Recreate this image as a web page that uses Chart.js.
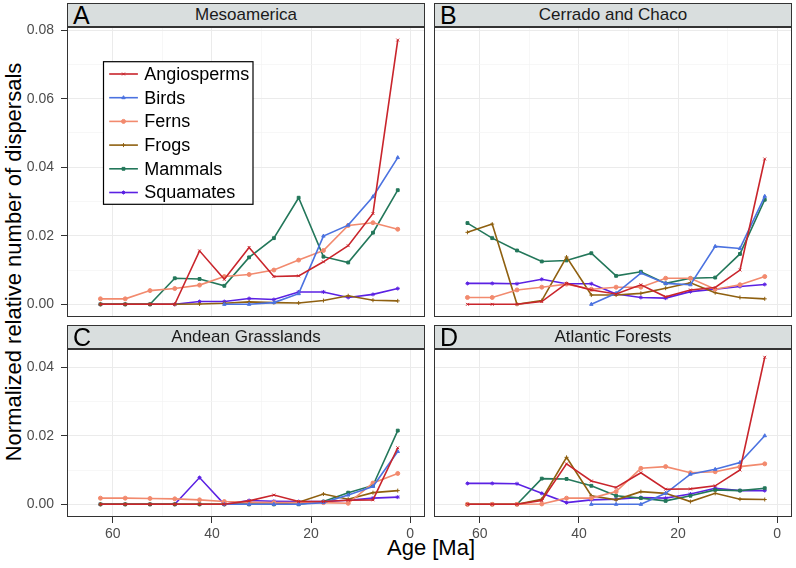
<!DOCTYPE html>
<html>
<head>
<meta charset="utf-8">
<script src="https://cdn.jsdelivr.net/npm/chart.js@4.4.1/dist/chart.umd.min.js"></script>
<style>
  body { margin: 0; background: #fff; font-family: "Liberation Sans", Arial, sans-serif; }
  #wrap { position: relative; width: 796px; height: 568px; overflow: hidden; }
  canvas.panel { position: absolute; }
  .strip { position: absolute; box-sizing: border-box; height: 24px; border: 1px solid #333; background: #D9DEDE; }
  .strip .tag { position: absolute; left: 5px; top: 0; line-height: 22px; font-size: 25px; color: #000; }
  .strip .ttl { position: absolute; left: 0; right: 0; top: 0; line-height: 22px; font-size: 17px; text-align: center; color: #1a1a1a; }
  .xtitle { position: absolute; left: 431px; top: 548px; font-size: 22px; line-height: 24px; white-space: nowrap; transform: translate(-50%, -50%); }
  .ytitle { position: absolute; left: 14px; top: 262px; font-size: 22px; line-height: 24px; white-space: nowrap; transform: translate(-50%, -50%) rotate(-90deg); }
</style>
</head>
<body>
<div id="wrap">
  <div class="xtitle">Age [Ma]</div>
  <div class="ytitle">Normalized relative number of dispersals</div>
</div>
<script>
const AGES   = [62.5, 57.5, 52.5, 47.5, 42.5, 37.5, 32.5, 27.5, 22.5, 17.5, 12.5, 7.5, 2.5];
const GROUPS = ['Angiosperms', 'Birds', 'Ferns', 'Frogs', 'Mammals', 'Squamates'];
const COLORS = ['#C9252C', '#4B72E0', '#F28A6E', '#8F6010', '#23775A', '#5B21E3'];
const SHAPES = ['crossRot', 'triangle', 'circle', 'cross', 'rect', 'star'];

// A - Mesoamerica
const mesoAngiosperms = [0, 0, 0, 0, 0.0156, 0.0073, 0.0166, 0.0081, 0.0083, 0.0124, 0.0171, 0.0265, 0.0771];
const mesoBirds       = [null, null, null, null, null, 0, 0, 0.0005, 0.0031, 0.0199, 0.0231, 0.0314, 0.0428];
const mesoFerns       = [0.0016, 0.0016, 0.0040, 0.0046, 0.0056, 0.0081, 0.0087, 0.0100, 0.0129, 0.0157, 0.0230, 0.0238, 0.0219];
const mesoFrogs       = [0, 0, 0, 0, 0.0001, 0.0003, 0.0007, 0.0005, 0.0004, 0.0011, 0.0025, 0.0012, 0.0010];
const mesoMammals     = [0, 0, 0, 0.0076, 0.0074, 0.0054, 0.0137, 0.0193, 0.0311, 0.0139, 0.0122, 0.0209, 0.0333];
const mesoSquamates   = [0, 0, 0, 0, 0.0008, 0.0008, 0.0017, 0.0014, 0.0036, 0.0036, 0.0020, 0.0029, 0.0046];

// B - Cerrado and Chaco
const cerrAngiosperms = [0, 0, 0, 0.0008, 0.0061, 0.0042, 0.0030, 0.0057, 0.0022, 0.0042, 0.0049, 0.0100, 0.0424];
const cerrBirds       = [null, null, null, null, null, 0, 0.0032, 0.0091, 0.0061, 0.0057, 0.0169, 0.0163, 0.0315];
const cerrFerns       = [0.0020, 0.0020, 0.0042, 0.0050, 0.0059, 0.0044, 0.0050, 0.0050, 0.0076, 0.0076, 0.0044, 0.0057, 0.0081];
const cerrFrogs       = [0.0210, 0.0234, 0, 0.0011, 0.0138, 0.0027, 0.0027, 0.0032, 0.0047, 0.0063, 0.0034, 0.0020, 0.0016];
const cerrMammals     = [0.0237, 0.0193, 0.0157, 0.0125, 0.0128, 0.0149, 0.0083, 0.0095, 0.0061, 0.0076, 0.0078, 0.0147, 0.0305];
const cerrSquamates   = [0.0061, 0.0061, 0.0060, 0.0073, 0.0060, 0.0060, 0.0030, 0.0020, 0.0018, 0.0037, 0.0044, 0.0052, 0.0058];

// C - Andean Grasslands
const andeAngiosperms = [0, 0, 0, 0, 0, 0, 0.0010, 0.0027, 0.0008, 0.0008, 0.0012, 0.0013, 0.0165];
const andeBirds       = [null, null, null, null, null, 0, 0, 0, 0, 0.0005, 0.0027, 0.0052, 0.0154];
const andeFerns       = [0.0018, 0.0018, 0.0017, 0.0016, 0.0013, 0.0008, 0.0006, 0.0005, 0.0005, 0.0005, 0.0003, 0.0062, 0.0090];
const andeFrogs       = [0, 0, 0, 0, 0, 0, 0, 0, 0.0006, 0.0030, 0.0015, 0.0034, 0.0040];
const andeMammals     = [0, 0, 0, 0, 0, 0, 0, 0, 0, 0.0008, 0.0034, 0.0055, 0.0215];
const andeSquamates   = [0, 0, 0, 0, 0.0078, 0, 0.0011, 0.0009, 0.0008, 0.0008, 0.0012, 0.0018, 0.0021];

// D - Atlantic Forests
const atlaAngiosperms = [0, 0, 0, 0.0011, 0.0118, 0.0068, 0.0049, 0.0092, 0.0044, 0.0045, 0.0054, 0.0100, 0.0429];
const atlaBirds       = [null, null, null, null, null, 0, 0, 0, 0.0032, 0.0088, 0.0102, 0.0122, 0.0200];
const atlaFerns       = [0, 0, 0, 0.0001, 0.0018, 0.0018, 0.0037, 0.0105, 0.0110, 0.0092, 0.0095, 0.0110, 0.0118];
const atlaFrogs       = [0, 0, 0, 0.0015, 0.0137, 0.0025, 0.0013, 0.0037, 0.0032, 0.0008, 0.0032, 0.0015, 0.0014];
const atlaMammals     = [0, 0, 0, 0.0075, 0.0074, 0.0054, 0.0025, 0.0018, 0.0010, 0.0025, 0.0042, 0.0040, 0.0047];
const atlaSquamates   = [0.0061, 0.0061, 0.0060, 0.0032, 0.0005, 0.0013, 0.0015, 0.0020, 0.0018, 0.0030, 0.0047, 0.0040, 0.0040];

const X_MIN = -3.0, X_MAX = 69.25;

const panels = [
  { tag: 'A', title: 'Mesoamerica',        left: 67,  top: 27,  w: 358, h: 290, yMin: -0.0037, yMax: 0.0809, showY: true,  showX: false, legend: true,
    series: [mesoAngiosperms, mesoBirds, mesoFerns, mesoFrogs, mesoMammals, mesoSquamates] },
  { tag: 'B', title: 'Cerrado and Chaco',  left: 434, top: 27,  w: 358, h: 290, yMin: -0.0037, yMax: 0.0809, showY: false, showX: false,
    series: [cerrAngiosperms, cerrBirds, cerrFerns, cerrFrogs, cerrMammals, cerrSquamates] },
  { tag: 'C', title: 'Andean Grasslands',  left: 67,  top: 349, w: 358, h: 168, yMin: -0.0037, yMax: 0.0453, showY: true,  showX: true,
    series: [andeAngiosperms, andeBirds, andeFerns, andeFrogs, andeMammals, andeSquamates] },
  { tag: 'D', title: 'Atlantic Forests',   left: 434, top: 349, w: 358, h: 168, yMin: -0.0037, yMax: 0.0453, showY: false, showX: true,
    series: [atlaAngiosperms, atlaBirds, atlaFerns, atlaFrogs, atlaMammals, atlaSquamates] },
];

const panelBorder = {
  id: 'panelBorder',
  afterDraw(chart) {
    const { ctx, chartArea: a } = chart;
    ctx.save();
    ctx.strokeStyle = '#333';
    ctx.lineWidth = 1;
    ctx.strokeRect(a.left + 0.5, a.top + 0.5, a.width - 1, a.height - 1);
    ctx.restore();
  }
};

// legend box inside panel A
const insetLegend = {
  id: 'insetLegend',
  afterDraw(chart, args, opts) {
    if (!opts.show) return;
    const { ctx, chartArea: a } = chart;
    const bx = a.left + 36.5, by = a.top + 34.7, bw = 149.5, bh = 142.6;
    ctx.save();
    ctx.fillStyle = '#fff';
    ctx.fillRect(bx, by, bw, bh);
    ctx.strokeStyle = '#000';
    ctx.lineWidth = 1.2;
    ctx.strokeRect(bx, by, bw, bh);
    ctx.font = '18px "Liberation Sans", Arial, sans-serif';
    ctx.textBaseline = 'middle';
    chart.data.datasets.forEach((ds, i) => {
      const cy = by + 12.3 + i * 23.7;
      ctx.strokeStyle = ds.borderColor;
      ctx.lineWidth = 1.6;
      ctx.beginPath();
      ctx.moveTo(bx + 5.7, cy);
      ctx.lineTo(bx + 34.4, cy);
      ctx.stroke();
      ctx.fillStyle = ds.borderColor;
      ctx.lineWidth = 1;
      Chart.helpers.drawPoint(ctx, { pointStyle: ds.pointStyle, radius: 2, borderWidth: 1, rotation: 0 }, bx + 20, cy);
      ctx.fillStyle = '#000';
      ctx.fillText(ds.label, bx + 40.7, cy + 1);
    });
    ctx.restore();
  }
};

const wrap = document.getElementById('wrap');

function isMajorY(v) { return Math.round(v * 100) % 2 === 0; }
function isMajorX(v) { return Math.round(v) % 20 === 0; }

function makePanel(p) {
  const padT = 20, padB = 20;
  const yw = p.showY ? 67 : 0;
  const xh = p.showX ? 30 : 0;

  const strip = document.createElement('div');
  strip.className = 'strip';
  strip.style.left = p.left + 'px';
  strip.style.top = (p.top - 24) + 'px';
  strip.style.width = p.w + 'px';
  strip.innerHTML = `<span class="tag">${p.tag}</span><div class="ttl">${p.title}</div>`;
  wrap.appendChild(strip);

  const canvas = document.createElement('canvas');
  canvas.className = 'panel';
  canvas.width = p.w + yw;
  canvas.height = p.h + xh + padT + padB;
  canvas.style.left = (p.left - yw) + 'px';
  canvas.style.top = (p.top - padT) + 'px';
  wrap.appendChild(canvas);

  const datasets = GROUPS.map((g, i) => ({
    label: g,
    data: AGES.map((a, j) => ({ x: a, y: p.series[i][j] })),
    borderColor: COLORS[i],
    backgroundColor: COLORS[i],
    borderWidth: 1.6,
    pointStyle: SHAPES[i],
    pointRadius: 2,
    pointBorderWidth: 1,
    pointHoverRadius: 2,
    tension: 0,
    spanGaps: false,
  }));

  new Chart(canvas, {
    type: 'line',
    data: { datasets },
    plugins: [panelBorder, insetLegend],
    options: {
      responsive: false,
      animation: false,
      events: [],
      layout: { autoPadding: false, padding: { top: padT, bottom: padB, left: 0, right: 0 } },
      plugins: {
        legend: { display: false },
        tooltip: { enabled: false },
        insetLegend: { show: !!p.legend },
      },
      scales: {
        x: {
          type: 'linear',
          reverse: true,
          min: X_MIN,
          max: X_MAX,
          border: { display: false },
          afterFit: s => { s.height = xh; },
          ticks: {
            display: p.showX,
            stepSize: 10,
            includeBounds: false,
            autoSkip: false,
            maxRotation: 0,
            padding: 3,
            color: '#4D4D4D',
            font: { size: 14, family: '"Liberation Sans", Arial, sans-serif' },
            callback: v => isMajorX(v) ? String(v) : '',
          },
          grid: {
            drawTicks: p.showX,
            tickLength: 6,
            color: c => isMajorX(c.tick.value) ? '#EBEBEB' : '#F4F4F4',
            lineWidth: c => isMajorX(c.tick.value) ? 1 : 0.7,
            tickColor: c => isMajorX(c.tick.value) ? '#333' : 'rgba(0,0,0,0)',
            tickWidth: 1,
          },
        },
        y: {
          type: 'linear',
          min: p.yMin,
          max: p.yMax,
          border: { display: false },
          afterFit: s => { s.width = yw; },
          ticks: {
            display: p.showY,
            stepSize: 0.01,
            includeBounds: false,
            padding: 7,
            color: '#4D4D4D',
            font: { size: 14, family: '"Liberation Sans", Arial, sans-serif' },
            callback: v => isMajorY(v) ? v.toFixed(2) : '',
          },
          grid: {
            drawTicks: p.showY,
            tickLength: 6,
            color: c => isMajorY(c.tick.value) ? '#EBEBEB' : '#F4F4F4',
            lineWidth: c => isMajorY(c.tick.value) ? 1 : 0.7,
            tickColor: c => isMajorY(c.tick.value) ? '#333' : 'rgba(0,0,0,0)',
            tickWidth: 1,
          },
        },
      },
    },
  });
}

panels.forEach(makePanel);
</script>
</body>
</html>
